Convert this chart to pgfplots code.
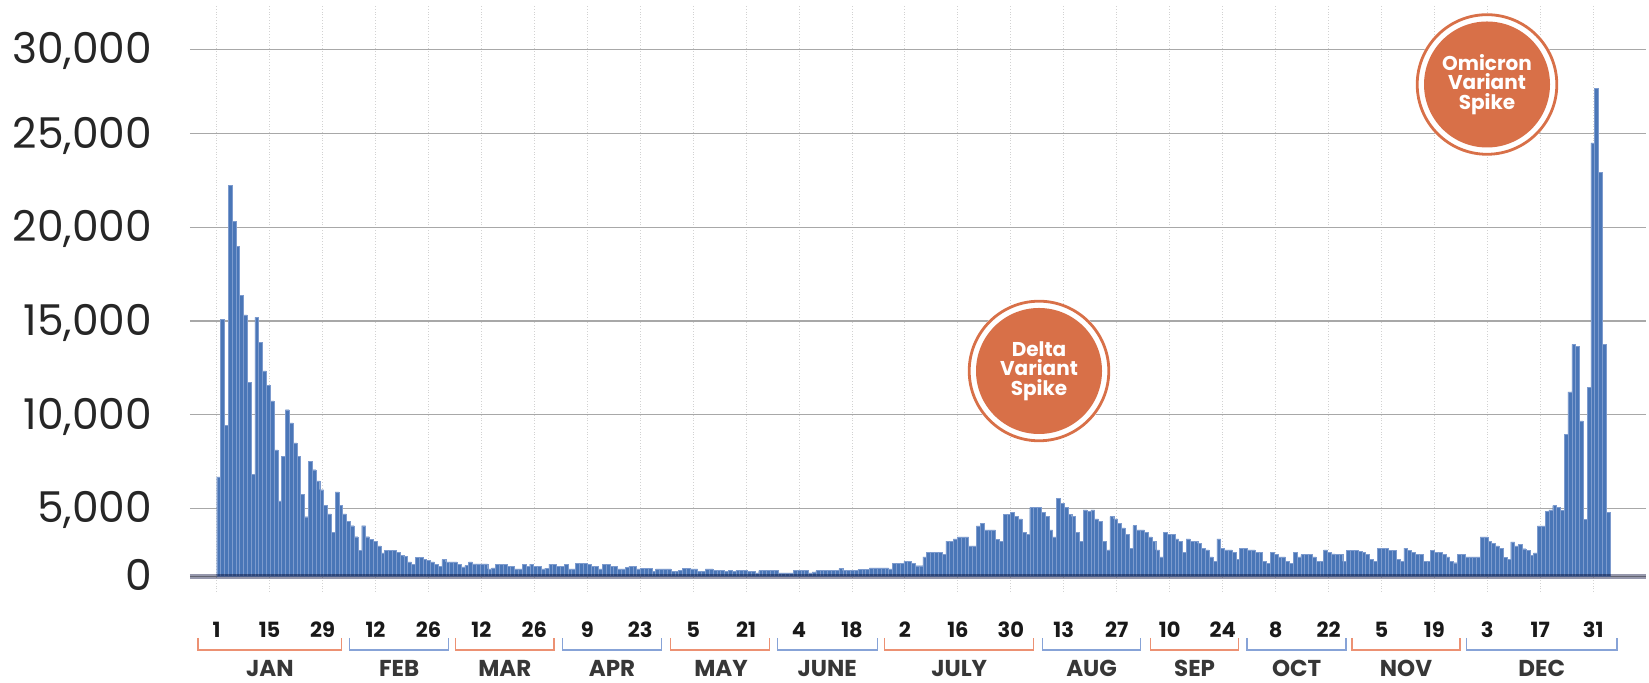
\documentclass[border=0pt]{standalone}
\usepackage{pgfplots}
\pgfplotsset{compat=1.18}
\usepackage{fontspec}
\setmainfont{Poppins}
\definecolor{barblue}{RGB}{74,118,183}
\definecolor{barline}{RGB}{125,155,206}
\definecolor{gridc}{RGB}{168,168,168}
\definecolor{basec}{RGB}{150,152,172}
\definecolor{circ}{RGB}{216,112,72}
\definecolor{brorange}{RGB}{236,145,115}
\definecolor{brblue}{RGB}{135,163,215}
\definecolor{monthc}{RGB}{55,55,55}
\begin{document}
\begin{tikzpicture}[x=1pt,y=1pt]
\begin{axis}[
  at={(95pt,45.5pt)}, anchor=south west,
  scale only axis, width=728pt, height=293pt,
  xmin=-6.49, xmax=374.95, ymin=-1154, ymax=32575,
  scaled y ticks=false, scaled x ticks=false,
  y coord trafo/.code={%
    \begingroup
    \pgfkeys{/pgf/fpu=true,/pgf/fpu/output format=fixed}%
    \pgfmathparse{((#1)<5000)*0.726*(#1) + ((#1)>=5000)*((#1)<25000)*(3630+(#1)-5000) + ((#1)>=25000)*(23630+0.899*((#1)-25000))}%
    \pgfmathsmuggle\pgfmathresult
    \endgroup},
  axis line style={draw=none},
  major tick length=0pt,
  ytick={0,5000,10000,15000,20000,25000,30000},
  yticklabels={0,{5,000},{10,000},{15,000},{20,000},{25,000},{30,000}},
  yticklabel style={font=\fontsize{21.2}{24}\selectfont, color=black!85, anchor=east, inner sep=0pt, text height=14.6pt, text depth=0pt, xshift=-18.75pt},
  xtick={0.5,14.37,28.24,42.11,55.98,69.85,83.72,97.59,111.46,125.33,139.2,153.07,166.94,180.81,194.68,208.55,222.42,236.29,250.16,264.03,277.9,291.77,305.64,319.51,333.38,347.25,361.12},
  xticklabels={1,15,29,12,26,12,26,9,23,5,21,4,18,2,16,30,13,27,10,24,8,22,5,19,3,17,31},
  xticklabel style={font=\bfseries\fontsize{10.5}{12}\selectfont, color=black!90, anchor=center, inner sep=0pt, text height=7.3pt, text depth=0pt, yshift=-19pt},
  xmajorgrids, ymajorgrids,
  x grid style={densely dotted, gray!35, line width=0.5pt},
  y grid style={gridc, line width=0.7pt},
  ybar, bar width=1,
  clip=false,
]
\addplot[ybar, bar width=1, fill=barblue, draw=barline, line width=0.18pt] coordinates {
(1,6680) (2,15070) (3,9430) (4,22250) (5,20300) (6,18980) (7,16370) (8,15320) (9,11710) (10,6810)
(11,15190) (12,13860) (13,12340) (14,11570) (15,10730) (16,8120) (17,5400) (18,7760) (19,10260) (20,9560)
(21,8490) (22,7760) (23,5760) (24,4380) (25,7520) (26,7060) (27,6460) (28,5990) (29,5160) (30,4580)
(31,3230) (32,5880) (33,5140) (34,4580) (35,4060) (36,3720) (37,2910) (38,1920) (39,3720) (40,2910)
(41,2730) (42,2560) (43,2240) (44,1720) (45,1920) (46,1900) (47,1900) (48,1750) (49,1550) (50,1450)
(51,1060) (52,890) (53,1380) (54,1380) (55,1230) (56,1150) (57,1060) (58,890) (59,740) (60,1230)
(61,1060) (62,1060) (63,1060) (64,890) (65,690) (66,800) (67,1060) (68,910) (69,910) (70,910)
(71,910) (72,540) (73,620) (74,890) (75,890) (76,890) (77,710) (78,710) (79,540) (80,540)
(81,890) (82,710) (83,890) (84,710) (85,710) (86,540) (87,600) (88,890) (89,890) (90,710)
(91,710) (92,890) (93,540) (94,540) (95,940) (96,940) (97,940) (98,890) (99,710) (100,710)
(101,540) (102,890) (103,890) (104,710) (105,710) (106,540) (107,540) (108,650) (109,740) (110,740)
(111,540) (112,570) (113,570) (114,570) (115,370) (116,540) (117,540) (118,540) (119,540) (120,370)
(121,370) (122,450) (123,570) (124,570) (125,540) (126,540) (127,370) (128,370) (129,540) (130,540)
(131,440) (132,440) (133,440) (134,370) (135,440) (136,370) (137,440) (138,440) (139,440) (140,370)
(141,370) (142,250) (143,420) (144,420) (145,420) (146,420) (147,420) (148,250) (149,250) (150,250)
(151,250) (152,420) (153,420) (154,420) (155,420) (156,250) (157,330) (158,420) (159,420) (160,420)
(161,420) (162,420) (163,420) (164,570) (165,420) (166,420) (167,420) (168,420) (169,490) (170,490)
(171,500) (172,610) (173,610) (174,610) (175,610) (176,610) (177,540) (178,930) (179,930) (180,930)
(181,1100) (182,1100) (183,930) (184,780) (185,780) (186,1420) (187,1760) (188,1760) (189,1760) (190,1760)
(191,1590) (192,2590) (193,2590) (194,2760) (195,2900) (196,2900) (197,2900) (198,2240) (199,2240) (200,3710)
(201,3900) (202,3420) (203,3420) (204,3420) (205,2730) (206,2590) (207,4560) (208,4560) (209,4710) (210,4390)
(211,4220) (212,3240) (213,3100) (214,5040) (215,5040) (216,5040) (217,4710) (218,4390) (219,3420) (220,2900)
(221,5520) (222,5270) (223,5040) (224,4560) (225,4390) (226,3240) (227,2590) (228,4880) (229,4800) (230,4880)
(231,4220) (232,4050) (233,2590) (234,1950) (235,4390) (236,4220) (237,3900) (238,3560) (239,3070) (240,2070)
(241,3730) (242,3420) (243,3420) (244,3240) (245,2900) (246,2590) (247,1950) (248,1420) (249,3240) (250,3070)
(251,3070) (252,2760) (253,2590) (254,1760) (255,2760) (256,2590) (257,2590) (258,2420) (259,2070) (260,1950)
(261,1420) (262,1100) (263,2760) (264,2070) (265,1950) (266,1950) (267,1760) (268,1270) (269,2070) (270,2070)
(271,1950) (272,1950) (273,1760) (274,1760) (275,1100) (276,930) (277,1760) (278,1590) (279,1420) (280,1420)
(281,1100) (282,930) (283,1760) (284,1420) (285,1590) (286,1590) (287,1590) (288,1420) (289,1100) (290,1100)
(291,1950) (292,1760) (293,1650) (294,1590) (295,1590) (296,1100) (297,1930) (298,1930) (299,1930) (300,1850)
(301,1760) (302,1590) (303,1270) (304,1100) (305,2070) (306,2070) (307,2070) (308,1930) (309,1930) (310,1270)
(311,1100) (312,2070) (313,1930) (314,1760) (315,1590) (316,1590) (317,1100) (318,1100) (319,1930) (320,1760)
(321,1760) (322,1590) (323,1420) (324,1100) (325,1000) (326,1590) (327,1590) (328,1420) (329,1420) (330,1420)
(331,1420) (332,2900) (333,2900) (334,2590) (335,2420) (336,2240) (337,2050) (338,1400) (339,1230) (340,2530)
(341,2230) (342,2350) (343,2030) (344,1900) (345,1560) (346,1730) (347,3710) (348,3710) (349,4790) (350,4880)
(351,5140) (352,5040) (353,4850) (354,8950) (355,11210) (356,13750) (357,13640) (358,9660) (359,4200) (360,11440)
(361,24500) (362,27700) (363,22940) (364,13740) (365,4700)
};
\draw[basec, line width=2.7pt, blend mode=multiply] (axis cs:-6.49,0) -- (axis cs:374.95,0);
\end{axis}
% month brackets
\begin{scope}[line width=0.6pt]
\draw[brorange] (98.95,22.5) -- (98.95,16.5) -- (170.8,16.5) -- (170.8,22.5);
\draw[brblue] (174.8,22.5) -- (174.8,16.5) -- (224.4,16.5) -- (224.4,22.5);
\draw[brorange] (227.7,22.5) -- (227.7,16.5) -- (277,16.5) -- (277,22.5);
\draw[brblue] (281.3,22.5) -- (281.3,16.5) -- (330.6,16.5) -- (330.6,22.5);
\draw[brorange] (335.1,22.5) -- (335.1,16.5) -- (384.65,16.5) -- (384.65,22.5);
\draw[brblue] (388.65,22.5) -- (388.65,16.5) -- (438.65,16.5) -- (438.65,22.5);
\draw[brorange] (442.35,22.5) -- (442.35,16.5) -- (516.75,16.5) -- (516.75,22.5);
\draw[brblue] (521.35,22.5) -- (521.35,16.5) -- (570.25,16.5) -- (570.25,22.5);
\draw[brorange] (575.35,22.5) -- (575.35,16.5) -- (619.2,16.5) -- (619.2,22.5);
\draw[brblue] (623.5,22.5) -- (623.5,16.5) -- (673,16.5) -- (673,22.5);
\draw[brorange] (676,22.5) -- (676,16.5) -- (730,16.5) -- (730,22.5);
\draw[brblue] (733.35,22.5) -- (733.35,16.5) -- (808.5,16.5) -- (808.5,22.5);
\end{scope}
\begin{scope}[every node/.style={font=\bfseries\fontsize{11.5}{14}\selectfont, text=monthc, inner sep=0pt, text height=8.1pt, text depth=0pt, anchor=center}]
\node at (134.9,7.4) {JAN};
\node at (199.6,7.4) {FEB};
\node at (252.4,7.4) {MAR};
\node at (306,7.4) {APR};
\node at (360.5,7.4) {MAY};
\node at (413.6,7.4) {JUNE};
\node at (479.6,7.4) {JULY};
\node at (545.8,7.4) {AUG};
\node at (597.3,7.4) {SEP};
\node at (648.3,7.4) {OCT};
\node at (703,7.4) {NOV};
\node at (770.9,7.4) {DEC};
\end{scope}
% annotation circles
\foreach \cx/\cy/\txt in {519.5/156/{Delta\\Variant\\Spike}, 743.5/299.25/{Omicron\\Variant\\Spike}} {
  \fill[white] (\cx,\cy) circle (35.7);
  \draw[circ, line width=1.4pt] (\cx,\cy) circle (34.9);
  \fill[circ] (\cx,\cy) circle (31.5);
  \node[text=white, font=\bfseries\fontsize{10}{9.8}\selectfont, align=center, inner sep=0pt] at (\cx,\cy) {\txt};
}
\pgfresetboundingbox
\path (0,0) rectangle (824.5,341.5);
\end{tikzpicture}
\end{document}
